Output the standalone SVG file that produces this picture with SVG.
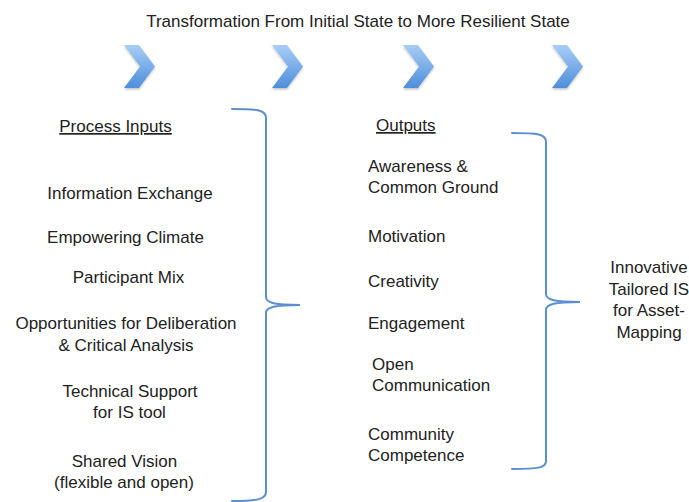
<svg xmlns="http://www.w3.org/2000/svg" width="689" height="502" viewBox="0 0 689 502">
<style>
  text { font-family: "Liberation Sans", Arial, sans-serif; font-size: 17px; fill: #222; }
  .c { text-anchor: middle; }
  .brace { fill: none; stroke: #5b8fd2; stroke-width: 2; stroke-linecap: round; }
  .chev { fill: url(#chevGrad); filter: url(#sh); }
</style>
<defs>
  <linearGradient id="chevGrad" x1="0" y1="0" x2="0" y2="1">
    <stop offset="0" stop-color="#a8cdf6"/>
    <stop offset="1" stop-color="#4e8edb"/>
  </linearGradient>
  <filter id="sh" x="-30%" y="-30%" width="160%" height="160%">
    <feDropShadow dx="0" dy="1.5" stdDeviation="1" flood-color="#000" flood-opacity="0.25"/>
  </filter>
</defs>
<rect width="689" height="502" fill="#fff"/>
<g id="title"><text class="c" x="358" y="27">Transformation From Initial State to More Resilient State</text></g>
<g id="chevrons">
  <polygon class="chev" points="124,45 139,45 155,66.5 139,88 124,88 140,66.5"/>
  <polygon class="chev" points="272,45 287,45 303,66.5 287,88 272,88 288,66.5"/>
  <polygon class="chev" points="403,45 418,45 434,66.5 418,88 403,88 419,66.5"/>
  <polygon class="chev" points="552,45 567,45 583,66.5 567,88 552,88 568,66.5"/>
</g>
<g id="connectors">
  <path class="brace" d="M232,109 C258,109 266,110 266,118 L266,297 C266,303 275,305 300,305 C275,305 266,307 266,313 L266,492 C266,499 258,501 232,501"/>
  <path class="brace" d="M512,133 C538,133 546,134 546,142 L546,294 C546,300 555,302 580,302 C555,302 546,304 546,310 L546,461 C546,468 538,469 512,469"/>
</g>
<g id="inputs">
  <text class="c" x="115.5" y="132" text-decoration="underline">Process Inputs</text>
  <text class="c" x="130" y="199">Information Exchange</text>
  <text class="c" x="125.5" y="243">Empowering Climate</text>
  <text class="c" x="128.5" y="283">Participant Mix</text>
  <text class="c" x="126" y="329">Opportunities for Deliberation</text>
  <text class="c" x="126" y="351">&amp; Critical Analysis</text>
  <text class="c" x="130" y="397">Technical Support</text>
  <text class="c" x="129.5" y="418">for IS tool</text>
  <text class="c" x="124.5" y="467">Shared Vision</text>
  <text class="c" x="124" y="488">(flexible and open)</text>
</g>
<g id="outputs">
  <text x="376" y="131" text-decoration="underline">Outputs</text>
  <text x="368" y="172">Awareness &amp;</text>
  <text x="368" y="193">Common Ground</text>
  <text x="368" y="242">Motivation</text>
  <text x="368" y="287">Creativity</text>
  <text x="368" y="329">Engagement</text>
  <text x="372" y="370">Open</text>
  <text x="372" y="391">Communication</text>
  <text x="368" y="440">Community</text>
  <text x="368" y="461">Competence</text>
</g>
<g id="result">
  <text class="c" x="649" y="273">Innovative</text>
  <text class="c" x="649" y="295">Tailored IS</text>
  <text class="c" x="649" y="316">for Asset-</text>
  <text class="c" x="649" y="338">Mapping</text>
</g>
</svg>
